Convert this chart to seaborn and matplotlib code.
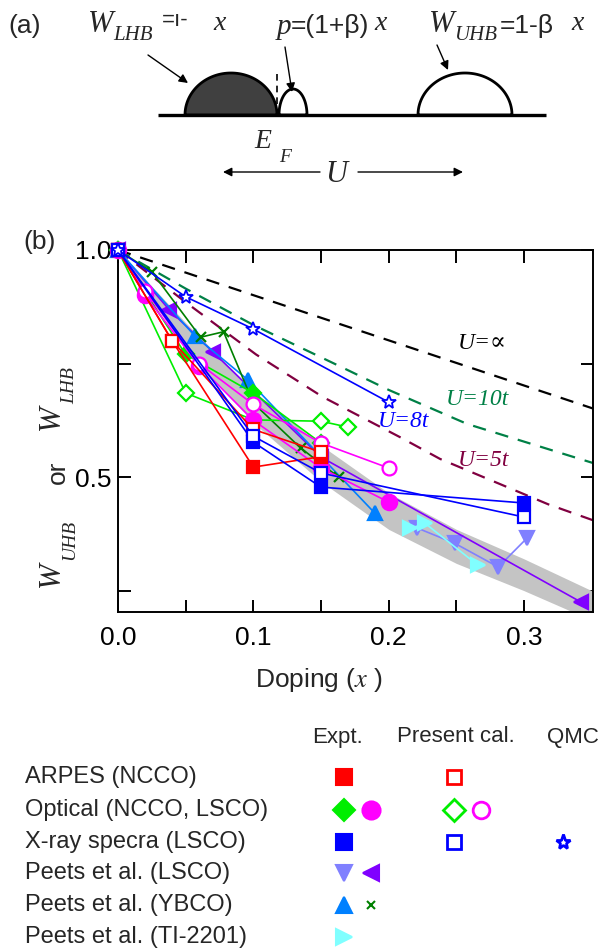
import numpy as np
import pandas as pd
import matplotlib
matplotlib.use("Agg")
import matplotlib.pyplot as plt
import seaborn as sns
from matplotlib.patches import Polygon

# ---------------- data ----------------
band_x  = [0.0, 0.05, 0.10, 0.15, 0.20, 0.25, 0.30, 0.35]
band_hi = [1.0, 0.84, 0.69, 0.57, 0.465, 0.385, 0.32, 0.25]
band_lo = [1.0, 0.78, 0.62, 0.49, 0.385, 0.31, 0.25, 0.185]

uinf_x = [0.0, 0.351]
uinf_y = [1.0, 0.651]
u10_x = [0.0, 0.05, 0.10, 0.166, 0.20, 0.258, 0.351]
u10_y = [1.0, 0.915, 0.835, 0.741, 0.692, 0.617, 0.531]
u5_x = [0.0, 0.05, 0.102, 0.151, 0.209, 0.238, 0.318, 0.351]
u5_y = [1.0, 0.885, 0.77, 0.677, 0.587, 0.54, 0.44, 0.405]

arpes_expt_x = [0.0, 0.04, 0.10, 0.15]
arpes_expt_y = [1.0, 0.80, 0.522, 0.545]
arpes_cal_x = [0.0, 0.04, 0.10, 0.15]
arpes_cal_y = [1.0, 0.80, 0.605, 0.555]

opt_ncco_expt_x = [0.0, 0.05, 0.10, 0.15]
opt_ncco_expt_y = [1.0, 0.77, 0.685, 0.575]
opt_ncco_cal_x = [0.0, 0.05, 0.10, 0.15, 0.17]
opt_ncco_cal_y = [1.0, 0.685, 0.626, 0.623, 0.61]

opt_lsco_expt_x = [0.0, 0.02, 0.06, 0.10, 0.15, 0.20]
opt_lsco_expt_y = [1.0, 0.90, 0.745, 0.625, 0.52, 0.445]
opt_lsco_cal_x = [0.0, 0.02, 0.06, 0.10, 0.15, 0.20]
opt_lsco_cal_y = [1.0, 0.91, 0.75, 0.66, 0.575, 0.52]

xray_expt_x = [0.0, 0.10, 0.15, 0.30]
xray_expt_y = [1.0, 0.577, 0.478, 0.443]
xray_cal_x = [0.0, 0.10, 0.15, 0.30]
xray_cal_y = [1.0, 0.59, 0.509, 0.412]

qmc_x = [0.0, 0.05, 0.10, 0.20]
qmc_y = [1.0, 0.897, 0.826, 0.665]

peets_lsco_a_x = [0.221, 0.249, 0.281, 0.302]
peets_lsco_a_y = [0.388, 0.354, 0.302, 0.365]
peets_lsco_b_x = [0.0, 0.038, 0.07, 0.15, 0.342]
peets_lsco_b_y = [1.0, 0.868, 0.776, 0.544, 0.225]

peets_ybco_a_x = [0.0, 0.057, 0.096, 0.19]
peets_ybco_a_y = [1.0, 0.81, 0.714, 0.42]
peets_ybco_b_x = [0.0, 0.025, 0.061, 0.078, 0.10, 0.135, 0.163]
peets_ybco_b_y = [1.0, 0.952, 0.808, 0.82, 0.663, 0.564, 0.50]

peets_tl_x = [0.216, 0.227, 0.266]
peets_tl_y = [0.387, 0.398, 0.306]

x_ticks = [0.0, 0.05, 0.10, 0.15, 0.20, 0.25, 0.30]
x_ticklabels = ["0.0", "", "0.1", "", "0.2", "", "0.3"]
y_ticks = [0.25, 0.5, 0.75, 1.0]
y_ticklabels = ["", "0.5", "", "1.0"]

legend_rows = ["ARPES (NCCO)", "Optical (NCCO, LSCO)", "X-ray specra (LSCO)",
               "Peets et al. (LSCO)", "Peets et al. (YBCO)", "Peets et al. (TI-2201)"]
legend_cols = ["Expt.", "Present cal.", "QMC"]

# ---------------- styling ----------------
sns.set_style("ticks")
plt.rcParams["font.family"] = ["Liberation Sans", "DejaVu Sans"]
plt.rcParams["mathtext.fontset"] = "stix"
SERIF = ["Liberation Serif", "DejaVu Serif"]

RED, GREEN, MAG, BLUE = "#ff0000", "#00ee00", "#ff00ff", "#0000ff"
LAV, PURP, DODG, DKGR, CYAN = "#8080ff", "#8000ff", "#0080ff", "#008000", "#80ffff"

fig = plt.figure(figsize=(6, 9.5), dpi=100)
ov = fig.add_axes([0, 0, 1, 1])
ov.set_xlim(0, 600)
ov.set_ylim(950, 0)
ov.axis("off")

ax = fig.add_axes([118 / 600, 1 - 612 / 950, 475 / 600, 362 / 950])


def series(x, y, color, marker, ms, filled=True, lw=1.2, mew=1.6, z=3):
    df = pd.DataFrame({"x": x, "y": y})
    sns.lineplot(data=df, x="x", y="y", ax=ax, color=color, marker=marker,
                 markersize=ms, markerfacecolor=color if filled else "white",
                 markeredgecolor=color, markeredgewidth=mew, lw=lw,
                 sort=False, estimator=None, zorder=z, clip_on=False)


# gray band
ax.fill_between(band_x, band_lo, band_hi, color="#c4c4c4", lw=0, zorder=1)

# theory dashed lines
for xs, ys, c in [(uinf_x, uinf_y, "black"), (u10_x, u10_y, "#008046"), (u5_x, u5_y, "#800040")]:
    sns.lineplot(x=xs, y=ys, ax=ax, color=c, lw=1.6, linestyle=(0, (6, 4.5)),
                 sort=False, estimator=None, zorder=2)

# experimental / calculated series
series(peets_lsco_a_x, peets_lsco_a_y, LAV, "v", 10)
series(peets_tl_x, peets_tl_y, CYAN, ">", 10)
series(peets_lsco_b_x, peets_lsco_b_y, PURP, "<", 10)
series(peets_ybco_a_x, peets_ybco_a_y, DODG, "^", 10)
series(peets_ybco_b_x, peets_ybco_b_y, DKGR, "x", 7)
series(opt_ncco_expt_x, opt_ncco_expt_y, GREEN, "D", 8)
series(opt_ncco_cal_x, opt_ncco_cal_y, GREEN, "D", 8, filled=False)
series(opt_lsco_expt_x, opt_lsco_expt_y, MAG, "o", 11)
series(opt_lsco_cal_x, opt_lsco_cal_y, MAG, "o", 10, filled=False)
series(arpes_expt_x, arpes_expt_y, RED, "s", 9)
series(arpes_cal_x, arpes_cal_y, RED, "s", 9, filled=False)
series(xray_expt_x, xray_expt_y, BLUE, "s", 9)
series(xray_cal_x, xray_cal_y, BLUE, "s", 9, filled=False)
series(qmc_x, qmc_y, BLUE, "*", 10, filled=False, mew=1.3)

ax.set_xlim(0, 0.351)
ax.set_ylim(0.203, 1.0)
ax.set_xticks(x_ticks)
ax.set_xticklabels(x_ticklabels)
ax.set_yticks(y_ticks)
ax.set_yticklabels(y_ticklabels)
ax.tick_params(direction="in", length=9, width=1.4, top=True, right=True,
               labelsize=19, colors="black")
ax.tick_params(axis="x", pad=10)
ax.tick_params(axis="y", pad=5)
for s in ax.spines.values():
    s.set_linewidth(1.4)
    s.set_color("black")
ax.set_ylabel("")
ax.set_xlabel(r"Doping ($x$ )", fontsize=19)
ax.xaxis.set_label_coords(0.423, -0.148)

# curve annotations
ax.text(0.251, 0.795, "U=\u221d", color="black", fontsize=17, family=SERIF, style="italic", va="center")
ax.text(0.242, 0.67, "U=10t", color="#008046", fontsize=17, family=SERIF, style="italic", va="center")
ax.text(0.192, 0.623, "U=8t", color=BLUE, fontsize=17, family=SERIF, style="italic", va="center")
ax.text(0.251, 0.537, "U=5t", color="#800040", fontsize=17, family=SERIF, style="italic", va="center")

# y label (composed)
ov.text(51, 574, "W", rotation=90, fontsize=22, family=SERIF, style="italic", ha="center", va="center")
ov.text(70, 540, "UHB", rotation=90, fontsize=14, family=SERIF, style="italic", ha="center", va="center")
ov.text(58, 472, "or", rotation=90, fontsize=19, ha="center", va="center")
ov.text(51, 417, "W", rotation=90, fontsize=22, family=SERIF, style="italic", ha="center", va="center")
ov.text(70, 386, "LHB", rotation=90, fontsize=14, family=SERIF, style="italic", ha="center", va="center")
ov.text(23, 242, "(b)", fontsize=19, va="center")

# ---------------- panel (a) schematic ----------------
ov.text(8, 26, "(a)", fontsize=19, va="center")


def half_ellipse(cx, cy, rx, ry, fc):
    t = np.linspace(np.pi, 2 * np.pi, 80)
    pts = np.column_stack([cx + rx * np.cos(t), cy + ry * np.sin(t)])
    ov.add_patch(Polygon(pts, closed=True, facecolor=fc, edgecolor="black", lw=2.0))


half_ellipse(231, 115, 46, 42, "#404040")
half_ellipse(293, 115, 14, 26, "white")
half_ellipse(465, 115, 47, 42, "white")
ov.plot([158, 546], [115, 115], color="black", lw=2.4, solid_capstyle="butt")
ov.plot([277, 277], [74, 112], color="black", lw=1.2, linestyle=(0, (4, 3)))

arr = dict(arrowstyle="-|>", color="black", lw=1.0, mutation_scale=13, shrinkA=0, shrinkB=0)
ov.annotate("", xy=(188, 83), xytext=(148, 55), arrowprops=arr)
ov.annotate("", xy=(292, 92), xytext=(285, 47), arrowprops=arr)
ov.annotate("", xy=(448, 70), xytext=(437, 45), arrowprops=arr)
ov.annotate("", xy=(223, 172), xytext=(320, 172), arrowprops=arr)
ov.annotate("", xy=(463, 172), xytext=(358, 172), arrowprops=arr)

ov.text(88, 24, "W", fontsize=22, family=SERIF, style="italic", va="center")
ov.text(113, 35, "LHB", fontsize=15, family=SERIF, style="italic", va="center")
ov.text(162, 21, "=\u0131-", fontsize=16, va="center")
ov.text(213, 23, "x", fontsize=20, family=SERIF, style="italic", va="center")
ov.text(277, 27, "p", fontsize=21, family=SERIF, style="italic", va="center")
ov.text(291, 26, "=(1+\u03b2)", fontsize=19, va="center")
ov.text(374, 23, "x", fontsize=20, family=SERIF, style="italic", va="center")
ov.text(429, 24, "W", fontsize=22, family=SERIF, style="italic", va="center")
ov.text(454, 35, "UHB", fontsize=15, family=SERIF, style="italic", va="center")
ov.text(500, 26, "=1-\u03b2", fontsize=19, va="center")
ov.text(571, 23, "x", fontsize=20, family=SERIF, style="italic", va="center")
ov.text(254, 142, "E", fontsize=20, family=SERIF, style="italic", va="center")
ov.text(279, 157, "F", fontsize=14, family=SERIF, style="italic", va="center")
ov.text(336, 174, "U", fontsize=22, family=SERIF, style="italic", va="center", ha="center")

# ---------------- legend table ----------------
col_x = [337, 456, 573]
for cx, lab in zip(col_x, legend_cols):
    ov.text(cx, 737, lab, fontsize=16, ha="center", va="center")
row_y = [777, 810, 842, 873, 905, 937]
for ry, lab in zip(row_y, legend_rows):
    ov.text(25, ry, lab, fontsize=17, va="center")

E1, E2, P1, P2, Q = 344, 371, 454, 481, 563
legend_marks = [
    (E1, 0, RED, "s", 11, True), (P1, 0, RED, "s", 10, False),
    (E1, 1, GREEN, "D", 11, True), (E2, 1, MAG, "o", 13, True),
    (P1, 1, GREEN, "D", 11, False), (P2, 1, MAG, "o", 12, False),
    (E1, 2, BLUE, "s", 11, True), (P1, 2, BLUE, "s", 10, False), (Q, 2, BLUE, "*", 11, False),
    (E1, 3, LAV, "v", 11, True), (E2, 3, PURP, "<", 11, True),
    (E1, 4, DODG, "^", 11, True), (E2, 4, DKGR, "x", 6, True),
    (E1, 5, CYAN, ">", 11, True),
]
for mx, ri, c, m, ms, filled in legend_marks:
    ov.plot([mx], [row_y[ri]], marker=m, ms=ms, color=c, ls="none",
            mfc=c if filled else "white", mec=c, mew=2.0 if not filled else 1.5)

fig.savefig("out.png", dpi=100)
